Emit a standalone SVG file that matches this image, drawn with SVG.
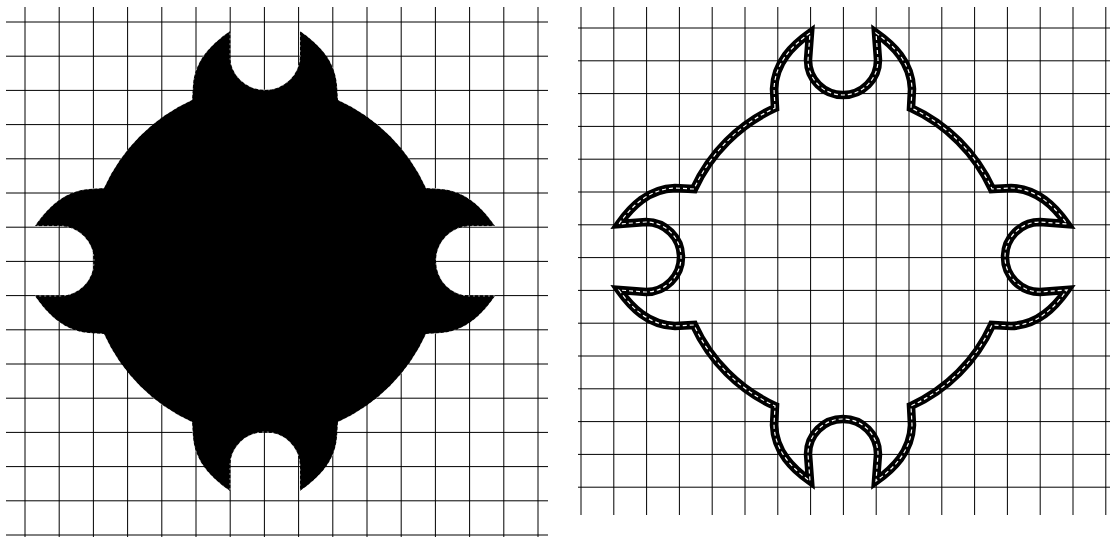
<svg xmlns="http://www.w3.org/2000/svg" width="1110" height="537" viewBox="0 0 1110 537">
<style>
.grid line{stroke:#000;stroke-width:1}
.fillshape{fill:#000;stroke:#fff;stroke-width:0.8;stroke-dasharray:2 3;stroke-opacity:0.7}
.outline{fill:none;stroke:#000;stroke-width:8.5;stroke-linejoin:miter;stroke-miterlimit:6}
.dash{fill:none;stroke:#fff;stroke-width:1.2;stroke-dasharray:4 3}
</style>
<defs>
<path id="leftPath" d="M-73,-161 L-72,-176 C-70,-200 -55,-216 -35,-230 L-35,-205 A35,34 0 0 0 35,-205 L35,-230 C55,-216 70,-200 72,-176 L73,-161 A177,177 0 0 1 161,-73 L176,-72 C200,-70 216,-55 230,-35 L205,-35 A34,35 0 0 0 205,35 L230,35 C216,55 200,70 176,72 L161,73 A177,177 0 0 1 73,161 L72,176 C70,200 55,216 35,230 L35,205 A35,34 0 0 0 -35,205 L-35,230 C-55,216 -70,200 -72,176 L-73,161 A177,177 0 0 1 -161,73 L-176,72 C-200,70 -216,55 -230,35 L-205,35 A34,35 0 0 0 -205,-35 L-230,-35 C-216,-55 -200,-70 -176,-72 L-161,-73 A177,177 0 0 1 -73,-161 Z"/>
<path id="rightPath" d="M-68,-149 L-69,-168 C-68,-195 -50,-212 -33,-224 L-35,-197 A35,35 0 0 0 35,-197 L33,-224 C50,-212 68,-195 69,-168 L68,-149 A164,164 0 0 1 149,-68 L168,-69 C195,-68 212,-50 224,-33 L197,-35 A35,35 0 0 0 197,35 L224,33 C212,50 195,68 168,69 L149,68 A164,164 0 0 1 68,149 L69,168 C68,195 50,212 33,224 L35,197 A35,35 0 0 0 -35,197 L-33,224 C-50,212 -68,195 -69,168 L-68,149 A164,164 0 0 1 -149,68 L-168,69 C-195,68 -212,50 -224,33 L-197,35 A35,35 0 0 0 -197,-35 L-224,-33 C-212,-50 -195,-68 -168,-69 L-149,-68 A164,164 0 0 1 -68,-149 Z"/>
</defs>
<rect width="1110" height="537" fill="#fff"/>
<g id="left-grid" class="grid">
<line x1="25" y1="7" x2="25" y2="537"/><line x1="59.2" y1="7" x2="59.2" y2="537"/><line x1="93.4" y1="7" x2="93.4" y2="537"/><line x1="127.6" y1="7" x2="127.6" y2="537"/><line x1="161.8" y1="7" x2="161.8" y2="537"/><line x1="196" y1="7" x2="196" y2="537"/><line x1="230.2" y1="7" x2="230.2" y2="537"/><line x1="264.4" y1="7" x2="264.4" y2="537"/><line x1="298.6" y1="7" x2="298.6" y2="537"/><line x1="332.8" y1="7" x2="332.8" y2="537"/><line x1="367" y1="7" x2="367" y2="537"/><line x1="401.2" y1="7" x2="401.2" y2="537"/><line x1="435.4" y1="7" x2="435.4" y2="537"/><line x1="469.6" y1="7" x2="469.6" y2="537"/><line x1="503.8" y1="7" x2="503.8" y2="537"/><line x1="538" y1="7" x2="538" y2="537"/>
<line x1="6" y1="22" x2="548" y2="22"/><line x1="6" y1="56.2" x2="548" y2="56.2"/><line x1="6" y1="90.4" x2="548" y2="90.4"/><line x1="6" y1="124.6" x2="548" y2="124.6"/><line x1="6" y1="158.8" x2="548" y2="158.8"/><line x1="6" y1="193" x2="548" y2="193"/><line x1="6" y1="227.2" x2="548" y2="227.2"/><line x1="6" y1="261.4" x2="548" y2="261.4"/><line x1="6" y1="295.6" x2="548" y2="295.6"/><line x1="6" y1="329.8" x2="548" y2="329.8"/><line x1="6" y1="364" x2="548" y2="364"/><line x1="6" y1="398.2" x2="548" y2="398.2"/><line x1="6" y1="432.4" x2="548" y2="432.4"/><line x1="6" y1="466.6" x2="548" y2="466.6"/><line x1="6" y1="500.8" x2="548" y2="500.8"/><line x1="6" y1="535" x2="548" y2="535"/>
</g>
<g id="right-grid" class="grid">
<line x1="581" y1="7" x2="581" y2="515"/><line x1="613.8" y1="7" x2="613.8" y2="515"/><line x1="646.6" y1="7" x2="646.6" y2="515"/><line x1="679.4" y1="7" x2="679.4" y2="515"/><line x1="712.2" y1="7" x2="712.2" y2="515"/><line x1="745" y1="7" x2="745" y2="515"/><line x1="777.8" y1="7" x2="777.8" y2="515"/><line x1="810.6" y1="7" x2="810.6" y2="515"/><line x1="843.4" y1="7" x2="843.4" y2="515"/><line x1="876.2" y1="7" x2="876.2" y2="515"/><line x1="909" y1="7" x2="909" y2="515"/><line x1="941.8" y1="7" x2="941.8" y2="515"/><line x1="974.6" y1="7" x2="974.6" y2="515"/><line x1="1007.4" y1="7" x2="1007.4" y2="515"/><line x1="1040.2" y1="7" x2="1040.2" y2="515"/><line x1="1073" y1="7" x2="1073" y2="515"/><line x1="1105.8" y1="7" x2="1105.8" y2="515"/>
<line x1="578" y1="28" x2="1110" y2="28"/><line x1="578" y1="60.8" x2="1110" y2="60.8"/><line x1="578" y1="93.6" x2="1110" y2="93.6"/><line x1="578" y1="126.4" x2="1110" y2="126.4"/><line x1="578" y1="159.2" x2="1110" y2="159.2"/><line x1="578" y1="192" x2="1110" y2="192"/><line x1="578" y1="224.8" x2="1110" y2="224.8"/><line x1="578" y1="257.6" x2="1110" y2="257.6"/><line x1="578" y1="290.4" x2="1110" y2="290.4"/><line x1="578" y1="323.2" x2="1110" y2="323.2"/><line x1="578" y1="356" x2="1110" y2="356"/><line x1="578" y1="388.8" x2="1110" y2="388.8"/><line x1="578" y1="421.6" x2="1110" y2="421.6"/><line x1="578" y1="454.4" x2="1110" y2="454.4"/><line x1="578" y1="487.2" x2="1110" y2="487.2"/>
</g>
<g id="filled-shape" transform="translate(265,261)">
<use href="#leftPath" class="fillshape"/>
</g>
<g id="outlined-shape" transform="translate(843,257)">
<use href="#rightPath" class="outline"/>
<use href="#rightPath" class="dash"/>
</g>
</svg>
